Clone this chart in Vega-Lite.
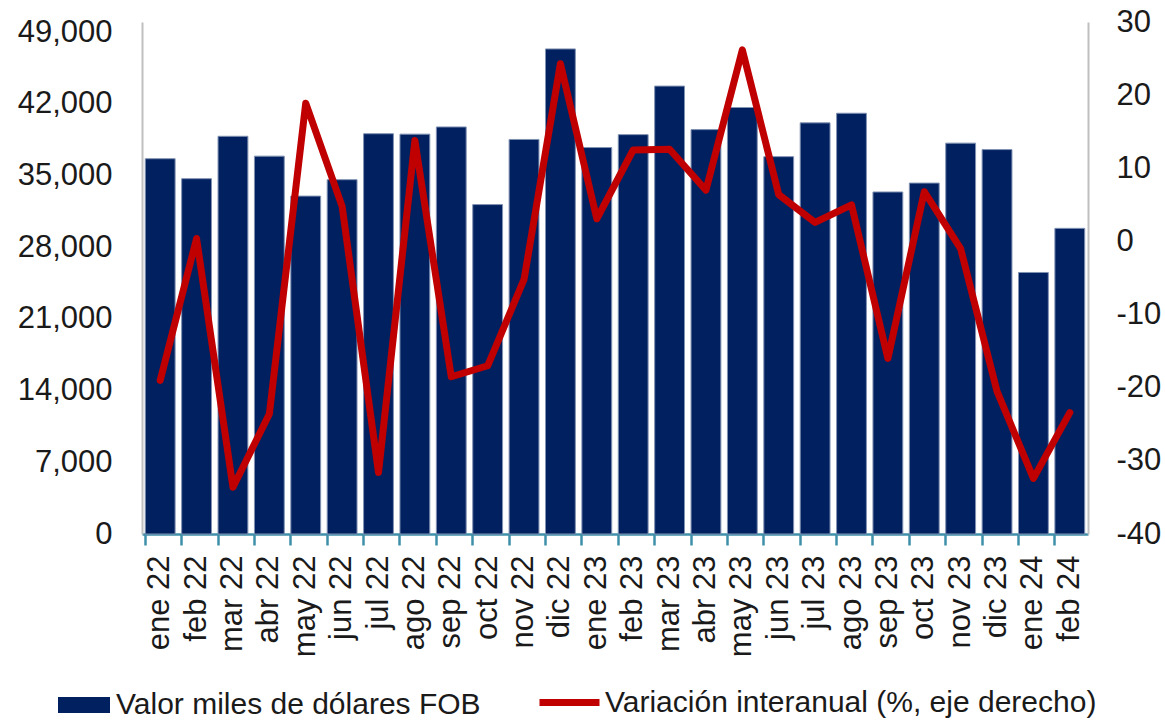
{
  "$schema": "https://vega.github.io/schema/vega-lite/v6.json",
  "width": 946,
  "height": 512,
  "autosize": {"type": "none"},
  "padding": {"left": 142, "top": 22, "right": 77, "bottom": 187},
  "background": "white",
  "config": {
    "view": {"stroke": null},
    "font": "Liberation Sans",
    "axis": {"labelFont": "Liberation Sans", "labelColor": "#1a1a1a", "grid": false, "title": null},
    "legend": {"labelFont": "Liberation Sans", "labelColor": "#1a1a1a"}
  },
  "data": {
    "values": [
      {"mes": "ene 22", "valor": 36650, "var": -19.0},
      {"mes": "feb 22", "valor": 34700, "var": 0.4},
      {"mes": "mar 22", "valor": 38840, "var": -33.6},
      {"mes": "abr 22", "valor": 36900, "var": -23.6},
      {"mes": "may 22", "valor": 33000, "var": 18.9},
      {"mes": "jun 22", "valor": 34600, "var": 4.8},
      {"mes": "jul 22", "valor": 39090, "var": -31.6},
      {"mes": "ago 22", "valor": 39050, "var": 13.8},
      {"mes": "sep 22", "valor": 39750, "var": -18.5},
      {"mes": "oct 22", "valor": 32170, "var": -17.0},
      {"mes": "nov 22", "valor": 38530, "var": -5.2},
      {"mes": "dic 22", "valor": 47370, "var": 24.3},
      {"mes": "ene 23", "valor": 37740, "var": 3.1},
      {"mes": "feb 23", "valor": 39000, "var": 12.5},
      {"mes": "mar 23", "valor": 43740, "var": 12.6},
      {"mes": "abr 23", "valor": 39490, "var": 7.0},
      {"mes": "may 23", "valor": 41650, "var": 26.2},
      {"mes": "jun 23", "valor": 36850, "var": 6.4},
      {"mes": "jul 23", "valor": 40150, "var": 2.6},
      {"mes": "ago 23", "valor": 41090, "var": 5.0},
      {"mes": "sep 23", "valor": 33400, "var": -16.0},
      {"mes": "oct 23", "valor": 34270, "var": 6.8},
      {"mes": "nov 23", "valor": 38170, "var": -1.0},
      {"mes": "dic 23", "valor": 37540, "var": -20.5},
      {"mes": "ene 24", "valor": 25540, "var": -32.4},
      {"mes": "feb 24", "valor": 29850, "var": -23.4}
    ]
  },
  "encoding": {
    "x": {
      "field": "mes",
      "type": "nominal",
      "sort": null,
      "scale": {"paddingInner": 0.18, "paddingOuter": 0.09},
      "axis": {
        "labelAngle": 270,
        "labelFontSize": 31,
        "labelPadding": 10,
        "bandPosition": 0,
        "domainColor": "#3F8FA8",
        "domainWidth": 2.5,
        "tickColor": "#3F8FA8",
        "tickWidth": 2.5,
        "tickSize": 11,
        "title": null
      }
    }
  },
  "layer": [
    {
      "mark": {"type": "bar", "stroke": "#8192B2", "strokeWidth": 1},
      "encoding": {
        "y": {
          "field": "valor",
          "type": "quantitative",
          "scale": {"domain": [0, 50000], "nice": false},
          "axis": {
            "orient": "left",
            "values": [0, 7000, 14000, 21000, 28000, 35000, 42000, 49000],
            "format": ",.0f",
            "ticks": false,
            "labelPadding": 30,
            "labelFontSize": 31,
            "domainColor": "#BFBFBF",
            "domainWidth": 2,
            "title": null
          }
        },
        "color": {
          "datum": "Valor miles de dólares FOB",
          "type": "nominal",
          "scale": {"range": ["#002060"]},
          "legend": {
            "orient": "none",
            "legendX": -84,
            "legendY": 657,
            "direction": "horizontal",
            "title": null,
            "labelFontSize": 30,
            "labelLimit": 0,
            "symbolType": "M-1,-0.3077H1V0.3077H-1Z",
            "symbolSize": 2704,
            "symbolStrokeWidth": 0,
            "symbolOpacity": 1,
            "labelOffset": 6
          }
        }
      }
    },
    {
      "mark": {"type": "line", "strokeWidth": 7, "strokeJoin": "round", "strokeCap": "round"},
      "encoding": {
        "y": {
          "field": "var",
          "type": "quantitative",
          "scale": {"domain": [-40, 30], "nice": false},
          "axis": {
            "orient": "right",
            "values": [-40, -30, -20, -10, 0, 10, 20, 30],
            "labelExpr": "'' + datum.value",
            "ticks": false,
            "labelPadding": 28,
            "labelFontSize": 31,
            "domainColor": "#BFBFBF",
            "domainWidth": 2,
            "title": null
          }
        },
        "color": {
          "datum": "Variación interanual (%, eje derecho)",
          "type": "nominal",
          "scale": {"range": ["#C00000"]},
          "legend": {
            "orient": "none",
            "legendX": 394,
            "legendY": 647,
            "direction": "horizontal",
            "title": null,
            "labelFontSize": 30,
            "labelLimit": 0,
            "symbolType": "stroke",
            "symbolSize": 3600,
            "symbolStrokeWidth": 7,
            "labelOffset": 2
          }
        }
      }
    }
  ],
  "resolve": {"scale": {"y": "independent", "color": "independent"}}
}
